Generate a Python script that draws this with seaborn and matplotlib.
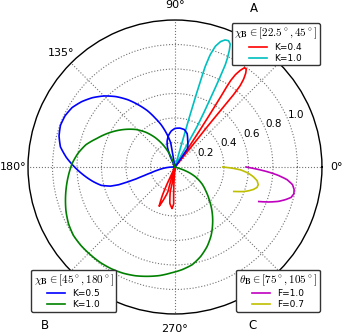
import numpy as np
import seaborn as sns
import matplotlib
matplotlib.use("Agg")
import matplotlib.pyplot as plt

# curve values: angles in degrees, radius in plot units
red_theta = [51, 51, 51.3, 51.1, 51, 51.3, 52, 53, 54, 55, 56, 56.8, 57.2, 57.2, 57,
             56.6, 56.2, 55.5, 54.5,
             245, 245, 246, 248, 250, 254, 253, 252,
             262, 260, 259, 262, 266, 268, 267, 266, 266]
red_r = [0, 0.2, 0.41, 0.6, 0.76, 0.85, 0.91, 0.96, 0.99, 0.99, 0.95, 0.9, 0.84, 0.78, 0.71,
         0.55, 0.42, 0.25, 0,
         0, 0.15, 0.25, 0.345, 0.3, 0.21, 0.1, 0,
         0, 0.15, 0.2, 0.3, 0.34, 0.3, 0.2, 0.1, 0]

cyan_theta = [74, 74, 73.7, 73.3, 72.6, 71.5, 70, 68.5, 67, 65.8, 65, 64.3, 63.8,
              63.3, 62.8, 62, 61.3, 61.5, 62.5, 63]
cyan_r = [0, 0.3, 0.6, 0.85, 0.96, 1.04, 1.09, 1.115, 1.12, 1.1, 1.05, 0.99, 0.93,
          0.8, 0.66, 0.5, 0.37, 0.2, 0.08, 0]

blue_theta = [54, 55, 55.6, 60, 65, 70, 76, 83, 90, 96, 102, 107, 111, 114, 115.5, 116,
              100, 100, 104, 108, 112, 116, 120, 125, 130, 135, 140, 145, 150, 155, 160,
              165, 170, 175, 180, 185, 190, 194, 196.5, 197.5, 197.5, 197, 195.5, 193.5,
              190, 186, 182, 180]
blue_r = [0, 0.08, 0.18, 0.21, 0.245, 0.29, 0.315, 0.32, 0.315, 0.295, 0.26, 0.22, 0.17,
          0.1, 0.04, 0,
          0, 0.2, 0.28, 0.36, 0.43, 0.51, 0.58, 0.67, 0.75, 0.82, 0.88, 0.93, 0.97, 0.99,
          0.995, 0.98, 0.95, 0.89, 0.82, 0.75, 0.68, 0.62, 0.55, 0.48, 0.4, 0.33, 0.26,
          0.2, 0.14, 0.09, 0.04, 0]

green_theta = [108, 112, 118, 124, 130, 136, 142, 148, 154, 160, 166, 172, 178, 184, 190,
               196, 202, 208, 214, 220, 226, 232, 238, 244, 250, 256, 262, 268, 274, 280,
               286, 292, 298, 304, 310, 316, 322, 328, 334, 338, 341, 343]
green_r = [0, 0.1, 0.2, 0.29, 0.37, 0.44, 0.5, 0.56, 0.62, 0.68, 0.75, 0.8, 0.84, 0.87,
           0.9, 0.93, 0.96, 0.985, 1.0, 1.0, 0.995, 0.99, 0.98, 0.965, 0.945, 0.92, 0.895,
           0.865, 0.84, 0.81, 0.76, 0.7, 0.63, 0.55, 0.47, 0.39, 0.32, 0.26, 0.19, 0.13,
           0.07, 0]

magenta_theta = [0, -1, -2, -3, -4.5, -6.4, -8.5, -10.7, -12.7, -14.7, -16.5, -18.4,
                 -20.4, -22.4]
magenta_r = [0.58, 0.64, 0.7, 0.76, 0.84, 0.92, 0.97, 0.99, 0.995, 0.98, 0.94, 0.89,
             0.82, 0.74]

yellow_theta = [0, -1.2, -2.6, -4.8, -7.1, -9.5, -12, -14, -16, -18, -19.7, -21.2, -22.6]
yellow_r = [0.39, 0.47, 0.54, 0.6, 0.645, 0.68, 0.695, 0.69, 0.666, 0.63, 0.595, 0.555,
            0.52]

r_ticks = [0.2, 0.4, 0.6, 0.8, 1.0]
r_max = 1.2

plt.rcParams['mathtext.fontset'] = 'cm'
plt.rcParams['font.family'] = ['DejaVu Sans']

fig = plt.figure(figsize=(3.45, 3.36), dpi=100)
ax = fig.add_axes([0.0812, 0.0655, 0.852, 0.875], projection='polar')

curves = [
    (red_theta, red_r, (1, 0, 0), 'K=0.4'),
    (cyan_theta, cyan_r, (0, 0.75, 0.75), 'K=1.0'),
    (blue_theta, blue_r, (0, 0, 1), 'K=0.5'),
    (green_theta, green_r, (0, 0.5, 0), 'K=1.0'),
    (magenta_theta, magenta_r, (0.75, 0, 0.75), 'F=1.0'),
    (yellow_theta, yellow_r, (0.75, 0.75, 0), 'F=0.7'),
]
handles = []
for th, rr, col, lab in curves:
    sns.lineplot(x=np.deg2rad(th), y=rr, sort=False, estimator=None,
                 color=col, lw=1.2, ax=ax, legend=False)
    line = ax.lines[-1]
    line.set_label(lab)
    line.get_path()._interpolation_steps = 25
    handles.append(line)

if ax.get_legend() is not None:
    ax.get_legend().remove()

ax.set_ylim(0, r_max)
ax.set_rgrids(r_ticks, angle=22.5, fontsize=7.5)
ax.set_thetagrids(range(0, 360, 45), fontsize=8)
ax.tick_params(axis='x', pad=0)
ax.grid(True, color='0.45', linestyle=':', linewidth=0.8)
ax.spines['polar'].set_linewidth(1.0)
ax.spines['polar'].set_color('black')
ax.set_xlabel('')
ax.set_ylabel('')

leg_kw = dict(fontsize=6.5, title_fontsize=8, fancybox=True, framealpha=1,
              edgecolor='0.2', handlelength=2.0, borderpad=0.3, labelspacing=0.2,
              borderaxespad=0)
titles = [r'$\chi_\mathbf{B} \in [22.5^\circ,45^\circ]$',
          r'$\chi_\mathbf{B} \in [45^\circ,180^\circ]$',
          r'$\theta_\mathbf{B} \in [75^\circ,105^\circ]$']
anchors = [('upper right', (0.9275, 0.9315)),
           ('lower left', (0.0899, 0.0714)),
           ('lower right', (0.9275, 0.0714))]
for i in range(3):
    loc, bb = anchors[i]
    leg = fig.legend(handles=handles[2 * i:2 * i + 2], title=titles[i], loc=loc,
                     bbox_to_anchor=bb, **leg_kw)
    leg.get_frame().set_linewidth(1.0)

fig.text(0.736, 0.975, 'A', ha='center', va='center', fontsize=8.5)
fig.text(0.130, 0.032, 'B', ha='center', va='center', fontsize=8.5)
fig.text(0.733, 0.032, 'C', ha='center', va='center', fontsize=8.5)

fig.savefig('out.png', dpi=100)
